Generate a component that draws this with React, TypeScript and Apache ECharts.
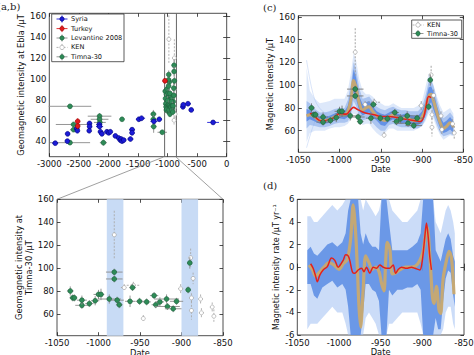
import React, { useEffect, useRef } from "react";
import * as echarts from "echarts";

const FONT = "DejaVu Sans";
const SERIF = "DejaVu Serif";

// ---------- Panel (a): [date, value, xErr, yErr] ----------
const syria = [
  [-2900, 38, 50, 1.5], [-2695, 40, 30, 2], [-2690, 47, 30, 2], [-2535, 52, 40, 2],
  [-2525, 50, 30, 2], [-2320, 57, 40, 2], [-2318, 54, 40, 2], [-2325, 50, 30, 2],
  [-2155, 56, 50, 2], [-2150, 54, 60, 2], [-2135, 49, 40, 2], [-2110, 47, 40, 2],
  [-2025, 49, 40, 2], [-1995, 48, 40, 2], [-1968, 49, 30, 2], [-1883, 45, 40, 2],
  [-1826, 43, 40, 2], [-1800, 41, 30, 2], [-1785, 42, 40, 2], [-1770, 40, 40, 2],
  [-1741, 41, 40, 2], [-1628, 42, 50, 2], [-1600, 51, 50, 2], [-1600, 48, 40, 2],
  [-1486, 61, 50, 2], [-1440, 62, 60, 2], [-1231, 59, 60, 2], [-1140, 61, 40, 2],
  [-740, 73, 40, 2], [-735, 75, 30, 2], [-655, 76, 50, 2], [-600, 70, 40, 2],
  [-230, 58, 100, 2],
];
const turkey = [
  [-2520, 59, 15, 3], [-2520, 54.5, 15, 3], [-1044, 98, 35, 2],
];
const levantine = [
  [-2650, 73.5, 360, 2], [-2650, 38.5, 340, 2], [-2590, 56, 300, 2], [-2590, 51, 60, 2],
  [-2150, 64, 200, 3], [-2150, 61, 150, 3], [-2145, 58, 100, 3], [-2085, 38.5, 60, 3],
  [-1770, 61, 30, 1], [-1240, 66, 50, 4], [-1240, 61, 50, 4], [-1235, 54, 50, 6],
  [-1090, 48.5, 80, 2],
  [-1040, 88, 30, 4], [-1020, 85, 20, 4], [-1010, 90, 25, 5], [-1000, 82, 30, 4],
  [-990, 86, 20, 4], [-980, 104, 10, 4], [-970, 97, 15, 4], [-965, 80, 20, 4],
  [-955, 77, 30, 4], [-945, 84, 20, 4], [-935, 76, 25, 4], [-925, 81, 20, 4],
  [-915, 72, 30, 4], [-905, 78, 20, 4], [-895, 91, 15, 5], [-890, 113, 12, 6],
  [-885, 98, 10, 4], [-1000, 69, 20, 3], [-960, 66, 25, 3],
];
const timnaEbla = [
  [-1035, 81, 5, 4], [-1030, 76, 5, 3], [-1025, 73, 8, 3], [-1020, 70, 6, 3],
  [-1012, 71, 5, 3], [-1004, 74, 5, 3], [-1000, 79, 6, 4], [-986, 75, 15, 4],
  [-982, 99, 10, 3], [-982, 93, 10, 3], [-978, 74, 8, 3], [-975, 70, 4, 3],
  [-963, 74, 6, 5], [-960, 86, 4, 3], [-950, 73, 5, 3], [-942, 73, 5, 3],
  [-933, 78, 5, 3], [-930, 70, 5, 3], [-920, 74, 10, 4], [-912, 68, 5, 3],
  [-908, 74, 8, 3], [-893, 84, 3, 3], [-890, 107, 3, 5],
];
const kenEbla = [
  [-978, 138, 2, 23], [-885, 120, 2, 18], [-888, 90, 2, 6], [-885, 72, 2, 6],
  [-890, 60, 2, 4], [-872, 66, 3, 4],
];
const zoomLines = [[-1050, 25, 163], [-850, 25, 163]];

// ---------- Panels (b), (c): Timna-30 and KEN at Timna ----------
const timna = [
  [-1034, 80, 4, 4], [-1031, 74, 4, 3], [-1029, 74, 3, 3], [-1020, 67.5, 8, 3],
  [-1020, 72, 6, 4], [-1011, 69, 5, 3], [-1004, 71.5, 5, 4], [-1000, 77, 6, 4],
  [-997, 77, 4, 5], [-987, 73, 14, 4], [-981, 96.5, 10, 3], [-981, 90.5, 10, 3],
  [-977.5, 72, 8, 3], [-975, 68, 4, 3], [-962, 71, 6, 5], [-959, 83, 4, 3],
  [-950.5, 71, 5, 3], [-942, 70.5, 5, 3], [-933, 76, 5, 3], [-931, 68, 5, 3],
  [-926, 70.5, 5, 4], [-918, 73, 15, 4], [-917, 66.5, 15, 3], [-910, 64.5, 10, 3],
  [-906, 71, 8, 3], [-892, 81, 3, 3], [-890, 104.5, 3, 5],
];
const ken = [
  [-981, 129, 2, 21], [-969, 83, 4, 3], [-958, 85, 8, 3], [-946, 56, 2, 3],
  [-901, 82, 3, 4], [-889, 109, 2, 8], [-886, 91, 2, 5], [-888, 74, 2, 4],
  [-888, 63, 2, 8], [-877, 73, 2, 4], [-876, 61, 3, 4], [-863, 66, 2, 4],
  [-861, 58, 2, 6],
];
const shadeSpans = [[-990, -970], [-900, -880]];

// ---------- Panel (c): ensemble of intensity curves ----------
const cDates = [-1040, -1036, -1030, -1024, -1018, -1012, -1006, -1000, -994, -990, -986, -983, -980, -976, -972, -968, -964, -960, -955, -950, -945, -940, -935, -930, -925, -920, -915, -910, -905, -900, -896, -892, -889, -886, -882, -878, -874, -870, -866, -862];
const cMedian = [73, 74, 72, 69, 69, 70, 72, 74, 74, 77, 88, 104, 98, 84, 78, 80, 81, 77, 73, 70, 69, 72, 74, 71, 70, 71, 70, 69, 69, 72, 79, 90, 92, 86, 76, 67, 62, 64, 67, 63];
const cInnerLo = [68, 70, 68, 66, 66, 67, 69, 71, 70, 72, 80, 94, 88, 77, 73, 75, 76, 72, 69, 65, 64, 68, 70, 67, 66, 67, 66, 65, 65, 67, 73, 82, 85, 78, 70, 62, 58, 59, 61, 58];
const cInnerHi = [79, 78, 75, 72, 72, 73, 75, 77, 77, 82, 96, 114, 107, 90, 83, 85, 86, 82, 77, 75, 74, 76, 78, 75, 74, 75, 74, 73, 73, 77, 85, 98, 99, 94, 82, 72, 67, 69, 72, 68];
const cMidLo = [62, 65, 64, 63, 63, 64, 66, 67, 67, 68, 74, 86, 82, 72, 69, 70, 71, 67, 63, 60, 60, 65, 66, 64, 63, 63, 63, 62, 62, 64, 70, 78, 80, 73, 65, 58, 55, 56, 57, 56];
const cMidHi = [86, 84, 79, 76, 76, 77, 79, 80, 80, 87, 102, 120, 114, 97, 88, 89, 90, 86, 81, 79, 78, 80, 81, 79, 78, 78, 77, 77, 77, 81, 90, 103, 104, 99, 87, 77, 71, 73, 76, 72];
const cOuterLo = [50, 58, 60, 60, 60, 62, 63, 63, 64, 66, 70, 75, 74, 68, 65, 66, 66, 62, 58, 55, 58, 62, 62, 60, 60, 60, 60, 60, 62, 64, 68, 75, 76, 70, 62, 56, 52, 54, 56, 55];
const cOuterHi = [115, 95, 88, 84, 85, 86, 88, 88, 88, 95, 112, 128, 122, 105, 95, 92, 92, 90, 86, 84, 82, 82, 84, 82, 80, 80, 80, 80, 82, 86, 98, 110, 108, 100, 90, 82, 76, 78, 80, 75];
const cWildDates = [-1040, -1036, -1032, -1028, -1022, -1016];
const cWildHigh = [122, 105, 92, 84, 78, 75];
const cWildLow = [45, 55, 64, 70, 72, 73];
const cRedDates = [-1036, -1032, -1028, -1022, -1016, -1008, -1004, -1000, -992, -987, -983, -978, -972, -966, -958, -950, -940, -930, -920, -910, -902, -898, -895, -892, -889];
const cRed = [75, 75, 71, 68.5, 69, 71, 73.5, 75, 74.5, 78, 80.5, 78.5, 76.5, 75, 74, 72.5, 72.5, 71.5, 70, 69, 68, 72, 82, 90, 89];

// ---------- Panel (d): ensemble of intensity rates ----------
const dBandDates = [-1038, -1034, -1030, -1026, -1020, -1014, -1008, -1002, -996, -992, -989, -986, -983, -980, -977, -974, -971, -968, -964, -960, -956, -952, -949, -946, -943, -940, -936, -930, -924, -918, -912, -906, -902, -899, -896, -893, -890, -887, -884, -881, -878, -875, -872, -869, -866, -863, -861];
const dDarkLo = [-1.5, -1.5, -2.5, -2.8, -1.8, -1.5, -1.2, -1.8, -1.5, -2, -3.5, -6, -6, -6, -6, -6, -4, -1.5, -1.5, -2, -2.2, -3, -6, -6, -6, -2, -2.5, -2, -2, -1.8, -1.8, -1.5, -2, -6, -6, -6, -6, -6, -4.5, -5.5, -5.5, -3, -1, -0.3, -0.5, -2.5, -3.5];
const dDarkHi = [1.5, 1.8, 1.2, 1, 1.5, 2, 2.2, 1.8, 2.2, 3, 5, 6, 6, 6, 6, 3, 2, 3, 2.2, 1.8, 1.8, 1.5, 6, 6, 6, 4, 1.5, 1.5, 1.5, 1.5, 1.8, 2.2, 3, 6, 6, 6, 6, 6, 1.5, 1, 0.5, 1.5, 2.5, 3, 2.5, 1, 0.5];
const dLightLo = [-5.5, -5, -5, -5, -4.5, -4, -3.5, -4, -4, -5, -6, -6, -6, -6, -6, -6, -6, -4.5, -4, -4.5, -5, -6, -6, -6, -6, -5, -5, -4.5, -4, -4, -4, -4, -5, -6, -6, -6, -6, -6, -6, -6, -6, -5.5, -4, -3.5, -3.5, -5, -5.5];
const dLightHi = [4.5, 4.5, 4, 4, 4.5, 5, 5.5, 5, 5.5, 6, 6, 6, 6, 6, 6, 6, 5, 6, 5.5, 5, 4.5, 5, 6, 6, 6, 6, 5, 4.5, 4, 4, 4.5, 5, 6, 6, 6, 6, 6, 6, 4, 3.5, 3, 4, 5, 5.5, 5, 4, 3];
const dGoldDates = [-1036, -1032, -1028, -1024, -1018, -1012, -1006, -1000, -995, -990, -986, -983, -980, -978, -976, -974, -971, -968, -964, -960, -956, -952, -949, -946, -944, -942, -939, -936, -932, -926, -920, -914, -908, -903, -899, -896, -894, -891, -888, -886, -883, -880, -878, -875, -871, -868, -865, -862];
const dGold = [0.2, -0.2, -0.8, -0.5, 0, 0.4, 0.2, -0.2, 0.3, 0.7, 2.5, 5.5, 3, 0, -3.5, -5.3, -2, 1, 0.4, -0.2, 0, -0.4, -1.4, -2.1, 0.5, 2.2, 1.6, -0.6, -0.5, -0.2, 0, 0, 0.1, 0.6, 1.4, 3, 3.5, 1, -2.5, -3.2, -1.7, -3.8, -4.1, -1, 0.6, 1.4, 0.8, -2.4];
const dRedDates = [-1034, -1031, -1028, -1026, -1023, -1019, -1014, -1009, -1005, -1001, -995, -992, -989, -987, -984, -981, -977, -973, -970, -967, -963, -959, -955, -951, -947, -943, -939, -935, -932, -929, -925, -919, -913, -909, -903, -900, -897, -895, -893, -891, -889];
const dRed = [0.3, -0.1, -0.8, -1.3, -0.7, -0.25, 0.05, 0.8, 0.6, 0, 0.6, 1.1, 1, 0.6, -0.4, -0.55, -0.25, -0.1, -0.4, 0, -0.55, 0, -0.1, 0.2, 0, -0.1, -0.1, 0.2, -0.55, -0.2, 0, -0.1, 0, -0.1, -0.25, 0.6, 2.7, 3.9, 2.7, 0.9, -0.25];

// ---------- tick labels ----------
const aYTicks = [40, 60, 80, 100, 120, 140, 160];
const bcYTicks = [60, 80, 100, 120, 140, 160];

// ---------- colours ----------
const BLUE = "#1c1cd6";
const RED = "#e31a1c";
const GREEN = "#2e8b57";
const GOLD = "rgba(206,170,104,0.9)";
const LINE_RED = "#e4211b";

function errSeries(name: string, data: number[][], gi: number, o: any) {
  return {
    type: "custom",
    name,
    xAxisIndex: gi,
    yAxisIndex: gi,
    data,
    encode: { x: 0, y: 1 },
    z: o.z ?? 6,
    silent: true,
    renderItem: (params: any, api: any) => {
      const x = api.value(0), y = api.value(1), xe = api.value(2), ye = api.value(3);
      const c = api.coord([x, y]);
      const l = api.coord([x - xe, y]);
      const r = api.coord([x + xe, y]);
      const t = api.coord([x, y + ye]);
      const b = api.coord([x, y - ye]);
      const ls: any = { stroke: o.bar, lineWidth: o.barW ?? 0.9 };
      if (o.dash) ls.lineDash = o.dash;
      return {
        type: "group",
        children: [
          { type: "line", shape: { x1: l[0], y1: l[1], x2: r[0], y2: r[1] }, style: ls },
          { type: "line", shape: { x1: t[0], y1: t[1], x2: b[0], y2: b[1] }, style: ls },
          { type: "circle", shape: { cx: c[0], cy: c[1], r: o.r ?? 2.4 }, style: { fill: o.fill, stroke: o.stroke, lineWidth: 0.6 } },
        ],
      };
    },
  };
}

function bandSeries(dates: number[], lo: number[], hi: number[], gi: number, fill: string, z: number) {
  return {
    type: "custom",
    xAxisIndex: gi,
    yAxisIndex: gi,
    data: [[dates[0], lo[0]]],
    encode: { x: 0, y: 1 },
    z,
    silent: true,
    renderItem: (params: any, api: any) => {
      const pts: number[][] = [];
      for (let i = 0; i < dates.length; i++) pts.push(api.coord([dates[i], hi[i]]));
      for (let i = dates.length - 1; i >= 0; i--) pts.push(api.coord([dates[i], lo[i]]));
      const cs = params.coordSys;
      const clipped = echarts.graphic.clipPointsByRect(pts, { x: cs.x, y: cs.y, width: cs.width, height: cs.height });
      return { type: "polygon", shape: { points: clipped }, style: { fill } };
    },
  };
}

function lineSeries(dates: number[], vals: number[], gi: number, color: string, width: number, z: number, smooth = 0.35) {
  return {
    type: "line",
    xAxisIndex: gi,
    yAxisIndex: gi,
    data: dates.map((d, i) => [d, vals[i]]),
    showSymbol: false,
    symbol: "none",
    smooth,
    lineStyle: { color, width },
    z,
    silent: true,
    clip: true,
  };
}

const tick = { show: true, inside: true, length: 3.5, lineStyle: { color: "#222", width: 0.8 } };
const labelStyle = { fontSize: 8.5, color: "#111", fontFamily: FONT };
const nameStyle = { fontSize: 8.3, color: "#111", fontFamily: FONT };

function xAxis(gi: number, min: number, max: number, interval: number, pos: string, name?: string, gap?: number) {
  return {
    type: "value", gridIndex: gi, min, max, interval, position: pos,
    splitLine: { show: false }, axisLine: { show: false }, axisTick: tick,
    axisLabel: pos === "bottom" ? { ...labelStyle, margin: 3, formatter: (v: number) => String(v) } : { show: false },
    name: name || "", nameLocation: "middle", nameGap: gap ?? 12, nameTextStyle: nameStyle,
  };
}
function yAxis(gi: number, min: number, max: number, pos: string, opts: any, name?: string, gap?: number, nameSize?: number) {
  const a: any = {
    type: "value", gridIndex: gi, min, max, position: pos,
    splitLine: { show: false }, axisLine: { show: false },
    axisTick: { ...tick },
    axisLabel: pos === "left" ? { ...labelStyle, margin: 3, formatter: (v: number) => String(v) } : { show: false },
    name: name || "", nameLocation: "middle", nameGap: gap ?? 20,
    nameTextStyle: { ...nameStyle, fontSize: nameSize ?? nameStyle.fontSize, lineHeight: 10 },
  };
  if (opts.interval) a.interval = opts.interval;
  if (opts.ticks) {
    a.axisTick.customValues = opts.ticks;
    if (pos === "left") a.axisLabel.customValues = opts.ticks;
  }
  return a;
}

function legendItem(x: number, y: number, label: string, fill: string, stroke: string, bar: string, dash?: number[]) {
  const ls: any = { stroke: bar, lineWidth: 0.9 };
  if (dash) ls.lineDash = dash;
  return [
    { type: "line", z: 101, shape: { x1: x - 5.5, y1: y, x2: x + 5.5, y2: y }, style: ls },
    { type: "line", z: 101, shape: { x1: x, y1: y - 3.5, x2: x, y2: y + 3.5 }, style: ls },
    { type: "circle", z: 102, shape: { cx: x, cy: y, r: 2.2 }, style: { fill, stroke, lineWidth: 0.6 } },
    { type: "text", z: 102, x: x + 9, y, style: { text: label, fontSize: 6.6, fontFamily: FONT, fill: "#111", verticalAlign: "middle", align: "left" } },
  ];
}

function buildOption() {
  const grids = [
    { left: 49.3, top: 13.3, width: 177.4, height: 143.4 },
    { left: 57, top: 199.3, width: 166, height: 136.4 },
    { left: 298.3, top: 15.7, width: 165, height: 136.6 },
    { left: 297.3, top: 199.3, width: 166.7, height: 135.7 },
  ].map((g) => ({ ...g, show: true, borderColor: "#222", borderWidth: 0.8, backgroundColor: "transparent", containLabel: false, outerBoundsMode: "none" }));

  const xAxes = [
    xAxis(0, -3000, 0, 500, "bottom"),
    xAxis(1, -1050, -850, 50, "bottom", "Date", 10),
    xAxis(2, -1050, -850, 50, "bottom", "Date", 10),
    xAxis(3, -1050, -850, 50, "bottom", "Date", 10),
    xAxis(0, -3000, 0, 500, "top"),
    xAxis(1, -1050, -850, 50, "top"),
    xAxis(2, -1050, -850, 50, "top"),
    xAxis(3, -1050, -850, 50, "top"),
  ];
  const yAxes = [
    yAxis(0, 25, 163, "left", { ticks: aYTicks }, "Geomagnetic intensity at Ebla /μT", 22),
    yAxis(1, 41, 160, "left", { ticks: bcYTicks }, "Geomagnetic intensity at\nTimna-30 /μT", 20),
    yAxis(2, 41, 161, "left", { ticks: bcYTicks }, "Magnetic intensity /μT", 19),
    yAxis(3, -6, 6, "left", { interval: 2 }, "Magnetic intensity rate /μT yr⁻¹", 14, 8),
    yAxis(0, 25, 163, "right", { ticks: aYTicks }),
    yAxis(1, 41, 160, "right", { ticks: bcYTicks }),
    yAxis(2, 41, 161, "right", { ticks: bcYTicks }),
    yAxis(3, -6, 6, "right", { interval: 2 }),
  ];

  const series: any[] = [];
  // (a)
  series.push({
    type: "custom", xAxisIndex: 0, yAxisIndex: 0, data: zoomLines, encode: { x: 0, y: 1 }, z: 3, silent: true,
    renderItem: (p: any, api: any) => {
      const a = api.coord([api.value(0), api.value(1)]);
      const b = api.coord([api.value(0), api.value(2)]);
      return { type: "line", shape: { x1: a[0], y1: a[1], x2: b[0], y2: b[1] }, style: { stroke: "#666", lineWidth: 1 } };
    },
  });
  series.push(errSeries("Levantine 2008", levantine, 0, { fill: GREEN, stroke: "#1d5e3a", bar: "#8a8a8a", z: 5 }));
  series.push(errSeries("Timna-30", timnaEbla, 0, { fill: GREEN, stroke: "#1d5e3a", bar: "#8a8a8a", z: 5 }));
  series.push(errSeries("KEN", kenEbla, 0, { fill: "#fff", stroke: "#999", bar: "#aaa", dash: [2, 1.5], r: 2, z: 4 }));
  series.push(errSeries("Syria", syria, 0, { fill: BLUE, stroke: "#00007a", bar: BLUE, z: 6 }));
  series.push(errSeries("Turkey", turkey, 0, { fill: RED, stroke: "#8b0000", bar: RED, z: 6 }));

  // (b)
  series.push({
    type: "custom", xAxisIndex: 1, yAxisIndex: 1, data: shadeSpans, encode: { x: [0, 1] }, z: 1, silent: true,
    renderItem: (p: any, api: any) => {
      const cs = p.coordSys;
      const a = api.coord([api.value(0), 100]);
      const b = api.coord([api.value(1), 100]);
      return { type: "rect", shape: { x: a[0], y: cs.y, width: b[0] - a[0], height: cs.height }, style: { fill: "#c8dbf5" } };
    },
  });
  series.push(errSeries("KEN", ken, 1, { fill: "#fff", stroke: "#999", bar: "#aaa", dash: [2, 1.5], r: 2, z: 5 }));
  series.push(errSeries("Timna-30", timna, 1, { fill: GREEN, stroke: "#1d5e3a", bar: "#8a8a8a", z: 6 }));

  // (c)
  series.push(bandSeries(cDates, cOuterLo, cOuterHi, 2, "rgba(170,198,242,0.4)", 1));
  series.push(lineSeries(cWildDates, cWildHigh, 2, "rgba(150,182,238,0.6)", 0.6, 1));
  series.push(lineSeries(cWildDates, cWildLow, 2, "rgba(150,182,238,0.6)", 0.6, 1));
  series.push(bandSeries(cDates, cMidLo, cMidHi, 2, "rgba(128,165,232,0.55)", 2));
  series.push(bandSeries(cDates, cInnerLo, cInnerHi, 2, "rgba(88,138,228,0.85)", 3));
  series.push(lineSeries(cDates, cMedian, 2, GOLD, 3, 4));
  series.push(lineSeries(cRedDates, cRed, 2, LINE_RED, 1.6, 5));
  series.push(errSeries("KEN", ken, 2, { fill: "#fff", stroke: "#999", bar: "#999", dash: [2, 1.5], r: 2, z: 6 }));
  series.push(errSeries("Timna-30", timna, 2, { fill: GREEN, stroke: "#1d5e3a", bar: "#777", z: 7 }));

  // (d)
  series.push(bandSeries(dBandDates, dLightLo, dLightHi, 3, "rgba(160,192,242,0.55)", 1));
  series.push(bandSeries(dBandDates, dDarkLo, dDarkHi, 3, "rgba(90,140,228,0.85)", 2));
  series.push(lineSeries(dGoldDates, dGold, 3, GOLD, 3.2, 4, 0.3));
  series.push(lineSeries(dRedDates, dRed, 3, LINE_RED, 1.5, 5, 0.3));

  const graphic: any[] = [
    // panel labels
    { type: "text", x: -3, y: 1, style: { text: "(a,b)", fontSize: 10, fontFamily: SERIF, fill: "#222" } },
    { type: "text", x: 263, y: 2, style: { text: "(c)", fontSize: 10, fontFamily: SERIF, fill: "#222" } },
    { type: "text", x: 263, y: 180, style: { text: "(d)", fontSize: 10, fontFamily: SERIF, fill: "#222" } },
    // zoom connectors from (a) to (b)
    { type: "line", z: 1, shape: { x1: 57, y1: 199.3, x2: 163.5, y2: 157 }, style: { stroke: "#888", lineWidth: 0.8 } },
    { type: "line", z: 1, shape: { x1: 223, y1: 199.3, x2: 176, y2: 157 }, style: { stroke: "#888", lineWidth: 0.8 } },
    // legend (a)
    { type: "rect", z: 100, shape: { x: 51.7, y: 14, width: 72.3, height: 47.7 }, style: { fill: "#fff", stroke: "#333", lineWidth: 0.8 } },
    ...legendItem(62, 19, "Syria", BLUE, "#00007a", BLUE),
    ...legendItem(62, 28.6, "Turkey", RED, "#8b0000", RED),
    ...legendItem(62, 38, "Levantine 2008", GREEN, "#1d5e3a", "#8a8a8a"),
    ...legendItem(62, 47.4, "KEN", "#fff", "#999", "#aaa", [2, 1.5]),
    ...legendItem(62, 56.8, "Timna-30", GREEN, "#1d5e3a", "#8a8a8a"),
    // legend (c)
    { type: "rect", z: 100, shape: { x: 411.7, y: 20, width: 50, height: 18.3 }, style: { fill: "#fff", stroke: "#333", lineWidth: 0.8 } },
    ...legendItem(418, 25, "KEN", "#fff", "#999", "#aaa", [2, 1.5]),
    ...legendItem(418, 33.5, "Timna-30", GREEN, "#1d5e3a", "#8a8a8a"),
  ];

  return {
    animation: false,
    backgroundColor: "#fff",
    grid: grids,
    xAxis: xAxes,
    yAxis: yAxes,
    series,
    graphic,
  };
}

export default function App() {
  const ref = useRef<HTMLDivElement>(null);
  useEffect(() => {
    const chart = echarts.init(ref.current!, null, { renderer: "svg" });
    chart.setOption(buildOption() as any);
    return () => chart.dispose();
  }, []);
  return (
    <div
      ref={ref}
      style={{ position: "absolute", left: 0, top: 0, width: 474, height: 355, background: "#fff" }}
    />
  );
}
